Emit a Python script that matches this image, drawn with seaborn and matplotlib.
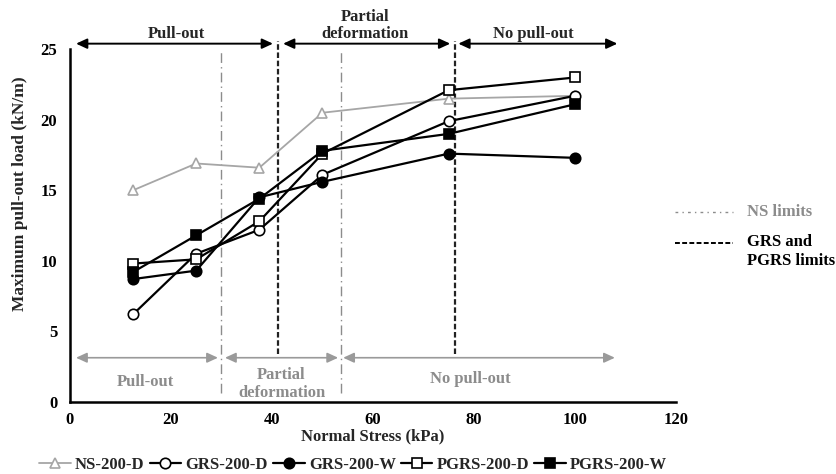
import matplotlib
matplotlib.use("Agg")
import matplotlib.pyplot as plt
from matplotlib.lines import Line2D
from matplotlib.patches import FancyArrowPatch
import pandas as pd
import seaborn as sns

# Normal stress levels (kPa)
stress = [12.5, 25, 37.5, 50, 75, 100]

# Maximum pull-out load (kN/m) for each test series
ns_200_d = [15.0, 16.9, 16.6, 20.5, 21.5, 21.7]
grs_200_d = [6.2, 10.5, 12.2, 16.1, 19.9, 21.7]
grs_200_w = [8.7, 9.3, 14.5, 15.6, 17.6, 17.3]
pgrs_200_d = [9.8, 10.1, 12.8, 17.6, 22.1, 23.0]
pgrs_200_w = [9.2, 11.8, 14.4, 17.8, 19.0, 21.1]

series_names = ["NS-200-D", "GRS-200-D", "GRS-200-W", "PGRS-200-D", "PGRS-200-W"]
series_values = [ns_200_d, grs_200_d, grs_200_w, pgrs_200_d, pgrs_200_w]

# Behaviour limits (kPa)
ns_limits = [30, 53.6]
grs_limits = [41.2, 76.2]

# Region labels
top_regions = ["Pull-out", "Partial\ndeformation", "No pull-out"]
bottom_regions = ["Pull-out", "Partial\ndeformation", "No pull-out"]

sns.set_style("white")
plt.rcParams["font.family"] = ["Liberation Serif", "DejaVu Serif"]
plt.rcParams["font.weight"] = "bold"
plt.rcParams["axes.labelweight"] = "bold"

FS = 12

df = pd.DataFrame({
    "stress": stress * len(series_names),
    "load": [v for vals in series_values for v in vals],
    "series": [n for n in series_names for _ in stress],
})

styles = {
    "NS-200-D": dict(color="#a6a6a6", marker="^", mfc="white", mec="#a6a6a6", lw=1.3),
    "GRS-200-D": dict(color="black", marker="o", mfc="white", mec="black", lw=1.6),
    "GRS-200-W": dict(color="black", marker="o", mfc="black", mec="black", lw=1.6),
    "PGRS-200-D": dict(color="black", marker="s", mfc="white", mec="black", lw=1.6),
    "PGRS-200-W": dict(color="black", marker="s", mfc="black", mec="black", lw=1.6),
}

fig = plt.figure(figsize=(8.37, 4.74), dpi=100)
ax = fig.add_axes([0.0836, 0.1525, 0.7240, 0.7435])

GRAY = "#9a9a9a"
TEXT_GRAY = "#8c8c8c"

# Limit lines (drawn first, below data)
for xv in ns_limits:
    ax.plot([xv, xv], [0.6, 25.0], color=TEXT_GRAY, lw=1.0,
            dashes=(7, 3, 1, 3), clip_on=False, zorder=1)
for xv in grs_limits:
    ax.plot([xv, xv], [3.4, 25.6], color="#222222", lw=1.6,
            dashes=(2.5, 1.2), clip_on=False, zorder=1)

handles = []
for name in series_names:
    st = styles[name]
    sub = df[df["series"] == name]
    sns.lineplot(data=sub, x="stress", y="load", ax=ax, color=st["color"],
                 marker=st["marker"], markersize=7.5, markerfacecolor=st["mfc"],
                 markeredgecolor=st["mec"], markeredgewidth=1.2, linewidth=st["lw"],
                 legend=False, zorder=3, clip_on=False)
    handles.append(Line2D([], [], color=st["color"], marker=st["marker"], markersize=7.5,
                          markerfacecolor=st["mfc"], markeredgecolor=st["mec"],
                          markeredgewidth=1.2, linewidth=st["lw"], label=name))

ax.set_xlim(0, 120)
ax.set_ylim(0, 25)
ax.set_xticks([0, 20, 40, 60, 80, 100, 120])
ax.set_yticks([0, 5, 10, 15, 20, 25])
ax.set_xlabel("Normal Stress (kPa)", fontsize=FS, fontweight="bold", labelpad=0)
ax.set_ylabel("Maximum pull-out load (kN/m)", fontsize=12.5, fontweight="bold")
ax.yaxis.set_label_coords(-0.069, 0.589)
for sp in ["top", "right"]:
    ax.spines[sp].set_visible(False)
for sp in ["left", "bottom"]:
    ax.spines[sp].set_linewidth(1.8)
    ax.spines[sp].set_color("black")
ax.tick_params(axis="both", direction="out", length=3.6, width=1.5, labelsize=FS,
               colors="black")
ax.tick_params(axis="x", pad=4)
ax.tick_params(axis="y", pad=5.5)
for lab in ax.get_xticklabels() + ax.get_yticklabels():
    lab.set_fontweight("bold")


def double_arrow(x0, x1, y, color, lw):
    arr = FancyArrowPatch((x0, y), (x1, y),
                          arrowstyle="<|-|>,head_length=0.65,head_width=0.3",
                          mutation_scale=10, color=color, lw=lw, clip_on=False,
                          shrinkA=0, shrinkB=0, zorder=2)
    ax.add_patch(arr)


# Top (GRS / PGRS) regions
top_spans = [(1.2, 40.2), (42.2, 75.3), (76.9, 108.4)]
top_label_x = [21, 58.4, 91.7]
for (x0, x1) in top_spans:
    double_arrow(x0, x1, 25.4, "black", 1.4)
for lx, txt in zip(top_label_x, top_regions):
    ax.text(lx, 25.5, txt, ha="center", va="bottom", fontsize=FS,
            fontweight="bold", clip_on=False, linespacing=1.1)

# Bottom (NS) regions
bot_spans = [(1.2, 29.3), (30.7, 53.1), (54.1, 107.9)]
for (x0, x1) in bot_spans:
    double_arrow(x0, x1, 3.12, GRAY, 1.2)
ax.text(14.9, 1.4, bottom_regions[0], ha="center", va="center", fontsize=FS,
        fontweight="bold", color=TEXT_GRAY)
ax.text(41.9, 1.25, bottom_regions[1], ha="center", va="center", fontsize=FS,
        fontweight="bold", color=TEXT_GRAY, linespacing=1.2)
ax.text(79.2, 1.6, bottom_regions[2], ha="center", va="center", fontsize=FS,
        fontweight="bold", color=TEXT_GRAY)

# Limit-line key on the right
fig.add_artist(Line2D([675 / 837, 733 / 837], [1 - 212 / 474, 1 - 212 / 474],
                      color=TEXT_GRAY, lw=1.0, dashes=(2, 3, 1, 3)))
fig.text(747 / 837, 1 - 212 / 474, "NS limits", ha="left", va="center", fontsize=FS,
         fontweight="bold", color=TEXT_GRAY)
fig.add_artist(Line2D([675 / 837, 733 / 837], [1 - 243 / 474, 1 - 243 / 474],
                      color="black", lw=1.4, dashes=(2.5, 1.2)))
fig.text(747 / 837, 1 - 234 / 474, "GRS and\nPGRS limits", ha="left", va="top",
         fontsize=FS, fontweight="bold", color="black", linespacing=1.25)

fig.legend(handles=handles, loc="center", bbox_to_anchor=(0.422, 1 - 465 / 474), ncol=5,
           frameon=False, handlelength=1.9, handletextpad=0.25,
           columnspacing=0.3, prop={"weight": "bold", "size": FS})

fig.savefig("out.png", dpi=100)
